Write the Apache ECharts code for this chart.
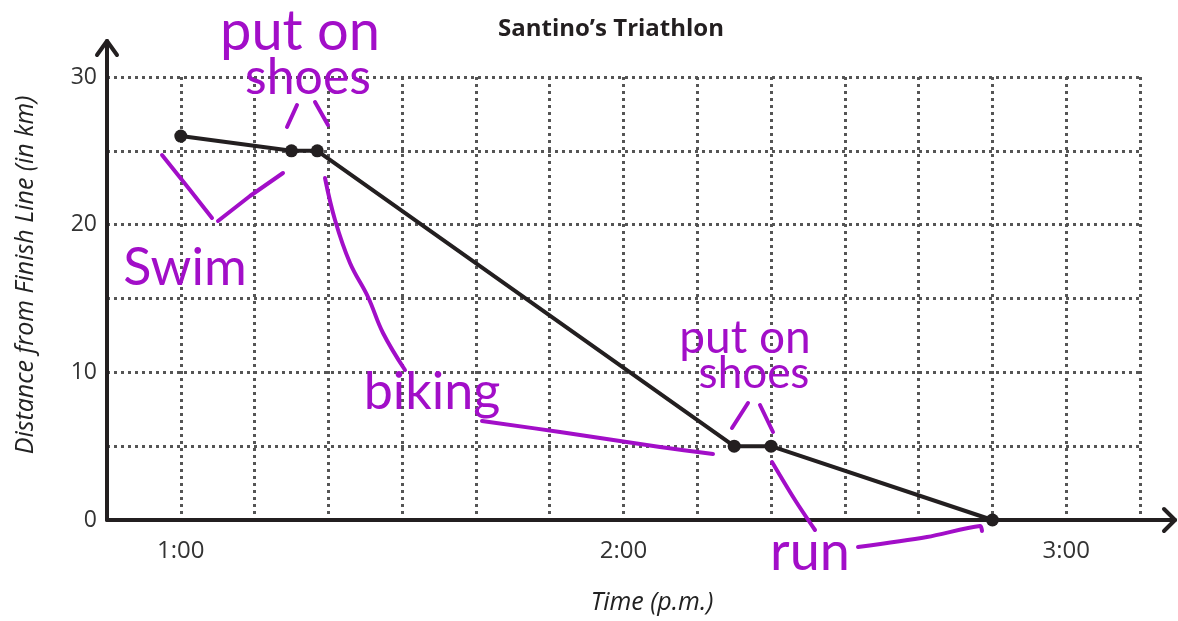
<!DOCTYPE html>
<html>
<head>
<meta charset="utf-8">
<script src="https://cdn.jsdelivr.net/npm/echarts@6/dist/echarts.min.js"></script>
<style>
  html, body { margin: 0; padding: 0; background: #fff; }
  #main { width: 1178px; height: 621px; }
</style>
</head>
<body>
<div id="main"></div>
<script>
// minutes after 12:00 p.m.
var minutes = [60, 75, 78.5, 135, 140, 170];
var distKm = [26, 25, 25, 5, 5, 0];
var xTickLabels = { 60: "1:00", 120: "2:00", 180: "3:00" };
var yTickLabels = [0, 10, 20, 30];

var ink = "#231f20";
var purple = "#a20ec8";

var chart = echarts.init(document.getElementById("main"));

var dotted = { color: "#555", width: 3, type: [3, 4] };

chart.setOption({
  animation: false,
  title: {
    text: "Santino\u2019s Triathlon",
    left: 606,
    top: 12,
    textAlign: "center",
    textStyle: { fontFamily: "Open Sans", fontWeight: "bold", fontSize: 24, color: ink },
  },
  grid: { left: 107, right: 38, top: 77, bottom: 101 },
  xAxis: {
    type: "value",
    min: 50,
    max: 190,
    interval: 10,
    axisLine: { show: false },
    axisTick: { show: false },
    axisLabel: {
      margin: 19,
      fontFamily: "Open Sans",
      fontSize: 24,
      color: "#333",
      formatter: function (v) {
        return xTickLabels[v] || "";
      },
    },
    splitLine: { show: true, lineStyle: dotted },
  },
  yAxis: {
    type: "value",
    min: 0,
    max: 30,
    interval: 5,
    axisLine: { show: false },
    axisTick: { show: false },
    axisLabel: {
      margin: 10,
      fontFamily: "Open Sans",
      fontSize: 23,
      color: "#333",
      formatter: function (v) {
        return yTickLabels.indexOf(v) >= 0 ? String(v) : "";
      },
    },
    splitLine: { show: true, lineStyle: dotted },
  },
  series: [
    {
      type: "line",
      data: minutes.map(function (m, i) {
        return [m, distKm[i]];
      }),
      symbol: "circle",
      symbolSize: 13,
      lineStyle: { color: ink, width: 4 },
      itemStyle: { color: ink },
      z: 5,
    },
  ],
});

// axes with arrowheads, placed from the chart's own scales
var o = chart.convertToPixel({ gridIndex: 0 }, [50, 0]);
var xEnd = chart.convertToPixel({ gridIndex: 0 }, [190, 0])[0] + 35;
var yEnd = chart.convertToPixel({ gridIndex: 0 }, [50, 30])[1] - 36;

function stroke(points, color, width, smooth) {
  return {
    type: "polyline",
    shape: { points: points, smooth: smooth || 0 },
    style: { stroke: color, lineWidth: width, fill: null, lineCap: "round", lineJoin: "round" },
    z: 10,
  };
}
function word(text, x, y, size) {
  return {
    type: "text",
    x: x,
    y: y,
    style: {
      text: text,
      fill: purple,
      font: "normal " + size + "px Lato",
      align: "center",
      verticalAlign: "middle",
    },
    z: 10,
  };
}

var graphics = [
  stroke([[o[0], o[1]], [o[0], yEnd]], ink, 4),
  stroke([[o[0] - 10, yEnd + 14], [o[0], yEnd], [o[0] + 10, yEnd + 14]], ink, 4),
  stroke([[o[0], o[1]], [xEnd, o[1]]], ink, 4),
  stroke([[xEnd - 11, o[1] - 11], [xEnd, o[1]], [xEnd - 11, o[1] + 11]], ink, 4),
  {
    type: "text",
    x: 652,
    y: 603,
    style: { text: "Time (p.m.)", font: "italic 25px Open Sans", fill: "#222", align: "center", verticalAlign: "middle" },
  },
  {
    type: "text",
    x: 26,
    y: 275,
    rotation: Math.PI / 2,
    style: {
      text: "Distance from Finish Line (in km)",
      font: "italic 25px Open Sans",
      fill: "#222",
      align: "center",
      verticalAlign: "middle",
    },
  },

  // handwritten notes
  word("put on", 300, 32, 56),
  word("shoes", 308, 78, 50),
  stroke([[297, 105], [287, 127]], purple, 4),
  stroke([[315, 102], [328, 125]], purple, 4),

  stroke([[162, 155], [190, 190], [212, 218]], purple, 4),
  stroke([[218, 221], [250, 196], [283, 173]], purple, 4),
  word("Swim", 185, 268, 52),

  stroke([[325, 178], [335, 220], [350, 263], [368, 297], [383, 333], [405, 370]], purple, 4, 0.4),
  word("biking", 432, 392, 52),
  stroke([[482, 421], [560, 432], [660, 447], [713, 454]], purple, 4, 0.4),

  word("put on", 745, 338, 46),
  word("shoes", 754, 374, 44),
  stroke([[732, 428], [748, 403]], purple, 4),
  stroke([[760, 405], [773, 432]], purple, 4),

  stroke([[772, 462], [795, 500], [815, 530]], purple, 4, 0.3),
  word("run", 810, 553, 54),
  stroke([[858, 547], [927, 537], [980, 526], [982, 531]], purple, 4, 0.3),
];

chart.setOption({ graphic: graphics });
</script>
</body>
</html>
